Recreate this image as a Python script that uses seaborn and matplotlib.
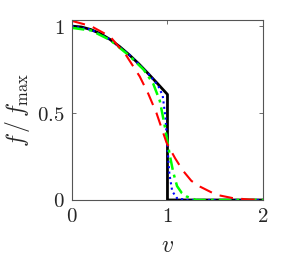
import numpy as np
import pandas as pd
import seaborn as sns
import matplotlib
matplotlib.use("Agg")
import matplotlib.pyplot as plt

# values
v_black = [0, 0.1, 0.2, 0.3, 0.4, 0.5, 0.6, 0.7, 0.8, 0.9, 1.0, 1.0, 2.0]
f_black = [1.0, 0.995, 0.98, 0.956, 0.923, 0.882, 0.835, 0.783, 0.726, 0.667, 0.607, 0.0, 0.0]

v_blue = [0, 0.2, 0.4, 0.6, 0.8, 0.9, 0.95, 0.98, 1.0, 1.02, 1.05, 1.1, 1.2, 2.0]
f_blue = [1.0, 0.98, 0.923, 0.835, 0.726, 0.66, 0.6, 0.47, 0.3, 0.15, 0.05, 0.01, 0.0, 0.0]

v_green = [0, 0.2, 0.4, 0.6, 0.75, 0.85, 0.92, 0.97, 1.02, 1.06, 1.1, 1.15, 1.2, 1.3, 2.0]
f_green = [0.99, 0.975, 0.92, 0.83, 0.75, 0.67, 0.57, 0.43, 0.27, 0.16, 0.08, 0.04, 0.02, 0.0, 0.0]

v_red = [0, 0.2, 0.4, 0.57, 0.71, 0.8, 0.885, 0.99, 1.08, 1.16, 1.25, 1.34, 1.51, 1.69, 1.85, 2.0]
f_red = [1.03, 1.0, 0.94, 0.83, 0.71, 0.61, 0.5, 0.33, 0.24, 0.17, 0.11, 0.077, 0.03, 0.01, 0.003, 0.0]

sns.set_style("ticks")
plt.rcParams["mathtext.fontset"] = "cm"
plt.rcParams["font.family"] = ["DejaVu Serif"]

fig = plt.figure(figsize=(2.91, 2.67), dpi=100)
ax = fig.add_axes([0.247, 0.251, 0.657, 0.674])

kw = dict(ax=ax, sort=False, estimator=None)
sns.lineplot(x=v_black, y=f_black, color="black", lw=2, **kw)
sns.lineplot(x=v_blue, y=f_blue, color="blue", lw=1.5, **kw)
ax.lines[-1].set_dashes([1, 1.6])
sns.lineplot(x=v_green, y=f_green, color=(0, 1, 0), lw=1.8, **kw)
ax.lines[-1].set_dashes([5, 2, 1.2, 2])
sns.lineplot(x=v_red, y=f_red, color="red", lw=1.5, **kw)
ax.lines[-1].set_dashes([6.5, 4])

ax.set_xlim(0, 2)
ax.set_ylim(0, 1.035)
ax.set_xticks([0, 1, 2])
ax.set_xticklabels(["$0$", "$1$", "$2$"])
ax.set_yticks([0, 0.5, 1])
ax.set_yticklabels(["$0$", "$0.5$", "$1$"])
ax.tick_params(direction="in", top=True, right=True, labelsize=15, length=3,
               color="#555555", width=0.6, pad=5)
for s in ax.spines.values():
    s.set_color("#555555")
    s.set_linewidth(0.8)
ax.set_xlabel("$v$", fontsize=17, labelpad=6)
ax.set_ylabel(r"$f\,/\,f_{\max}$", fontsize=17, labelpad=4)

fig.savefig("out.png", dpi=100)
